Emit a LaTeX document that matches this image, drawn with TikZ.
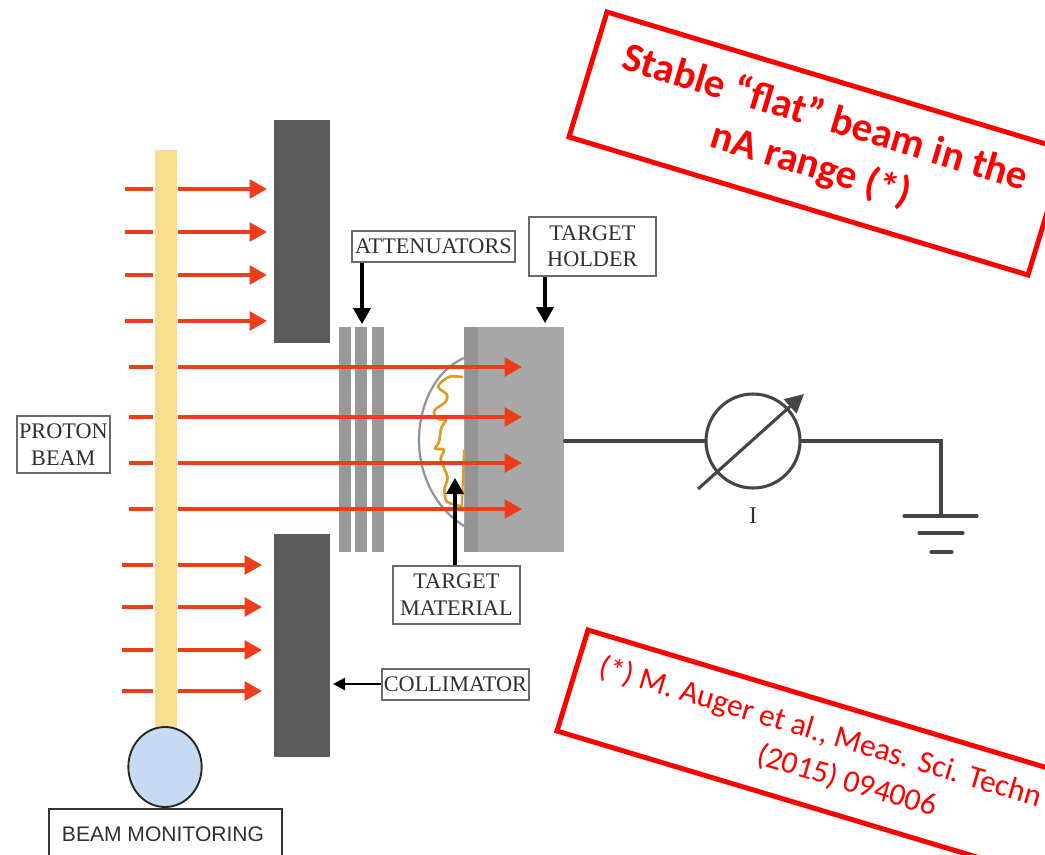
\documentclass[tikz,border=0pt]{standalone}
\usepackage{fontspec}
\setmainfont{Liberation Serif}
\newfontfamily\calibrif{Carlito}
\newfontfamily\arialf{Liberation Sans}
\usetikzlibrary{arrows.meta,calc,shapes.geometric}
\definecolor{rbeam}{HTML}{EE3D1B}
\definecolor{ybeam}{HTML}{F9DD91}
\definecolor{dgrey}{HTML}{5A5A5A}
\definecolor{mgrey}{HTML}{999999}
\definecolor{hgrey}{HTML}{A8A8A8}
\definecolor{sgrey}{HTML}{949494}
\definecolor{wire}{HTML}{454545}
\definecolor{lab}{HTML}{303030}
\definecolor{labbox}{HTML}{6A6A6A}
\definecolor{orangem}{HTML}{DE9A22}
\definecolor{curvem}{HTML}{8C96A0}
\definecolor{circb}{HTML}{C6DAF1}
\definecolor{annot}{HTML}{FF0000}
\tikzset{
  x=0.75pt,y=-0.75pt,
  redarrow/.style={draw=rbeam,line width=2.6pt,-{Triangle[length=13pt,width=14pt,fill=rbeam]}},
  blackarrow/.style={draw=black,line width=2.4pt,-{Triangle[length=12pt,width=13pt,fill=black]}},
  labelbox/.style={draw=labbox,line width=1.3pt,fill=white,text=lab,font=\fontsize{16.7pt}{20pt}\selectfont,align=center,inner sep=0pt,anchor=north west},
  block/.style={draw=none,anchor=north west,inner sep=0pt},
  wireline/.style={draw=wire,line width=2.3pt,line cap=round},
  annotbox/.style={draw=annot,line width=3.7pt,line join=miter},
}
\begin{document}
\begin{tikzpicture}
\useasboundingbox (0,0) rectangle (1045,854);
\clip (0,0) rectangle (1045,854);
\fill[white] (0,0) rectangle (1045,854);

% collimators
\node[block,fill=dgrey,minimum width=42pt,minimum height=167.25pt] (coltop) at (274,120) {};
\node[block,fill=dgrey,minimum width=42pt,minimum height=167.25pt] (colbot) at (274,534) {};

% attenuators
\node[block,fill=mgrey,minimum width=9pt,minimum height=168.75pt] (att1) at (339,327) {};
\node[block,fill=mgrey,minimum width=9pt,minimum height=168.75pt] (att2) at (355,327) {};
\node[block,fill=mgrey,minimum width=9pt,minimum height=168.75pt] (att3) at (372,327) {};

% target holder
\node[block,fill=hgrey,minimum width=75pt,minimum height=168.75pt] (holder) at (464,327) {};
\node[block,fill=sgrey,minimum width=10.5pt,minimum height=168.75pt] (strip) at (464,327) {};

% target material
\draw[curvem,line width=1.7pt,fill=white] (464,358) .. controls (432,372) and (419,410) .. (419,440) .. controls (419,478) and (438,510) .. (464,526);
\draw[orangem,line width=2pt,rounded corners=2pt] (463,377) -- (450,376) -- (441,382) -- (437,387) -- (448,395) -- (446,402) -- (434,410) -- (434,416) -- (440,420) -- (447,419) -- (441,428) -- (439,443) -- (434,449) -- (445,449) -- (440,459) -- (445,470) -- (448,478) -- (444,490) -- (446,502) -- (463,507);
\draw[orangem,line width=1.6pt] (464,450) -- (462,505);

% proton arrows
\foreach \n/\ya/\xa/\xb in {a/189/125/267,b/232/125/267,c/275/125/267,d/321/125/267,
  e/367/129/522,f/417/129/522,g/463/129/522,h/509/129/522,
  i/565/122/262,j/607/122/262,k/650/122/262,l/691/122/262}{
  \coordinate (s\n) at (\xa,\ya);
  \coordinate (t\n) at (\xb,\ya);
  \draw[redarrow] (s\n) -- (t\n);
}

% proton beam
\fill[white] (153,150) rectangle (178,730);
\node[block,fill=ybeam,minimum width=16.5pt,minimum height=435pt] (beam) at (155,150) {};

% beam monitor
\node[draw=black!85,line width=1.4pt,fill=circb,ellipse,inner sep=0pt,minimum width=55pt,minimum height=60pt] (monitor) at (165,767) {};
\node[draw=black!80,line width=1.4pt,fill=white,anchor=north west,inner sep=0pt,minimum width=175pt,minimum height=60pt] (monbox) at (48,808) {};
\node[text=lab,font=\arialf\fontsize{15.8pt}{18pt}\selectfont,inner sep=0pt] (monlabel) at (163,834) {BEAM MONITORING};

% labels
\node[labelbox,minimum width=122.25pt,minimum height=23.25pt] (lblatt) at (351,230) {ATTENUATORS};
\node[labelbox,minimum width=95.25pt,minimum height=44.25pt] (lblhold) at (528,216) {TARGET\\HOLDER};
\node[labelbox,minimum width=95.25pt,minimum height=43.5pt] (lblmat) at (392,565) {TARGET\\MATERIAL};
\node[labelbox,minimum width=69.75pt,minimum height=42.75pt] (lblproton) at (16,415) {PROTON\\BEAM};
\node[labelbox,minimum width=110.25pt,minimum height=23.25pt] (lblcoll) at (381,668) {COLLIMATOR};

\coordinate (attend) at (362,324);
\coordinate (holdend) at (545,323);
\coordinate (matend) at (455,478);
\coordinate (collend) at (333,684);
\draw[blackarrow] (attend |- lblatt.south) -- (attend);
\draw[blackarrow] (holdend |- lblhold.south) -- (holdend);
\draw[blackarrow] (matend |- lblmat.north) -- (matend);
\draw[draw=black,line width=1.9pt,-{Triangle[length=9pt,width=9pt,fill=black]}] (lblcoll.west |- collend) -- (collend);

% circuit
\node[circle,draw=wire,line width=2.3pt,fill=white,inner sep=0pt,minimum size=70.5pt] (meter) at (753,441) {};
\coordinate (gndtop) at (941,516);
\coordinate (corner) at (941,441);
\draw[wireline] (holder.east |- meter.west) -- (meter.west);
\draw[wireline] (meter.east) -- (corner) -- (gndtop);
\coordinate (gla) at (904,516); \coordinate (glb) at (977,516);
\coordinate (gma) at (919,533); \coordinate (gmb) at (963,533);
\coordinate (gsa) at (931,552); \coordinate (gsb) at (952,552);
\draw[wireline] (gla) -- (glb);
\draw[wireline] (gma) -- (gmb);
\draw[wireline] (gsa) -- (gsb);
\coordinate (mstart) at (698,489);
\coordinate (mend) at (804,394);
\draw[draw=wire,line width=2.3pt,-{Triangle[length=14pt,width=14pt,fill=wire]}] (mstart) -- (mend);
\node[text=lab,font=\fontsize{18pt}{20pt}\selectfont,inner sep=0pt] (ilabel) at (753,516) {I};

% annotation boxes
\draw[annotbox] (607,12) -- (569,137) -- (1028,275) -- (1066,150) -- cycle;
\node[text=annot,font=\calibrif\bfseries\fontsize{30.7pt}{37pt}\selectfont,align=center,rotate=-16.8,inner sep=0pt] (stable) at (818,142) {Stable “flat” beam in the\\nA range (*)};
\draw[annotbox] (588,630) -- (557,731) -- (1100,894) -- (1131,793) -- cycle;
\node[text=annot,font=\calibrif\fontsize{23.6pt}{28pt}\selectfont,rotate=-16.6,inner sep=0pt,anchor=west] (ref1) at (600,667) {(*) M. Auger et al., Meas. Sci. Techn};
\node[text=annot,font=\calibrif\fontsize{23.6pt}{28pt}\selectfont,rotate=-16.6,inner sep=0pt] (ref2) at (847,781) {(2015) 094006};
\end{tikzpicture}
\end{document}
